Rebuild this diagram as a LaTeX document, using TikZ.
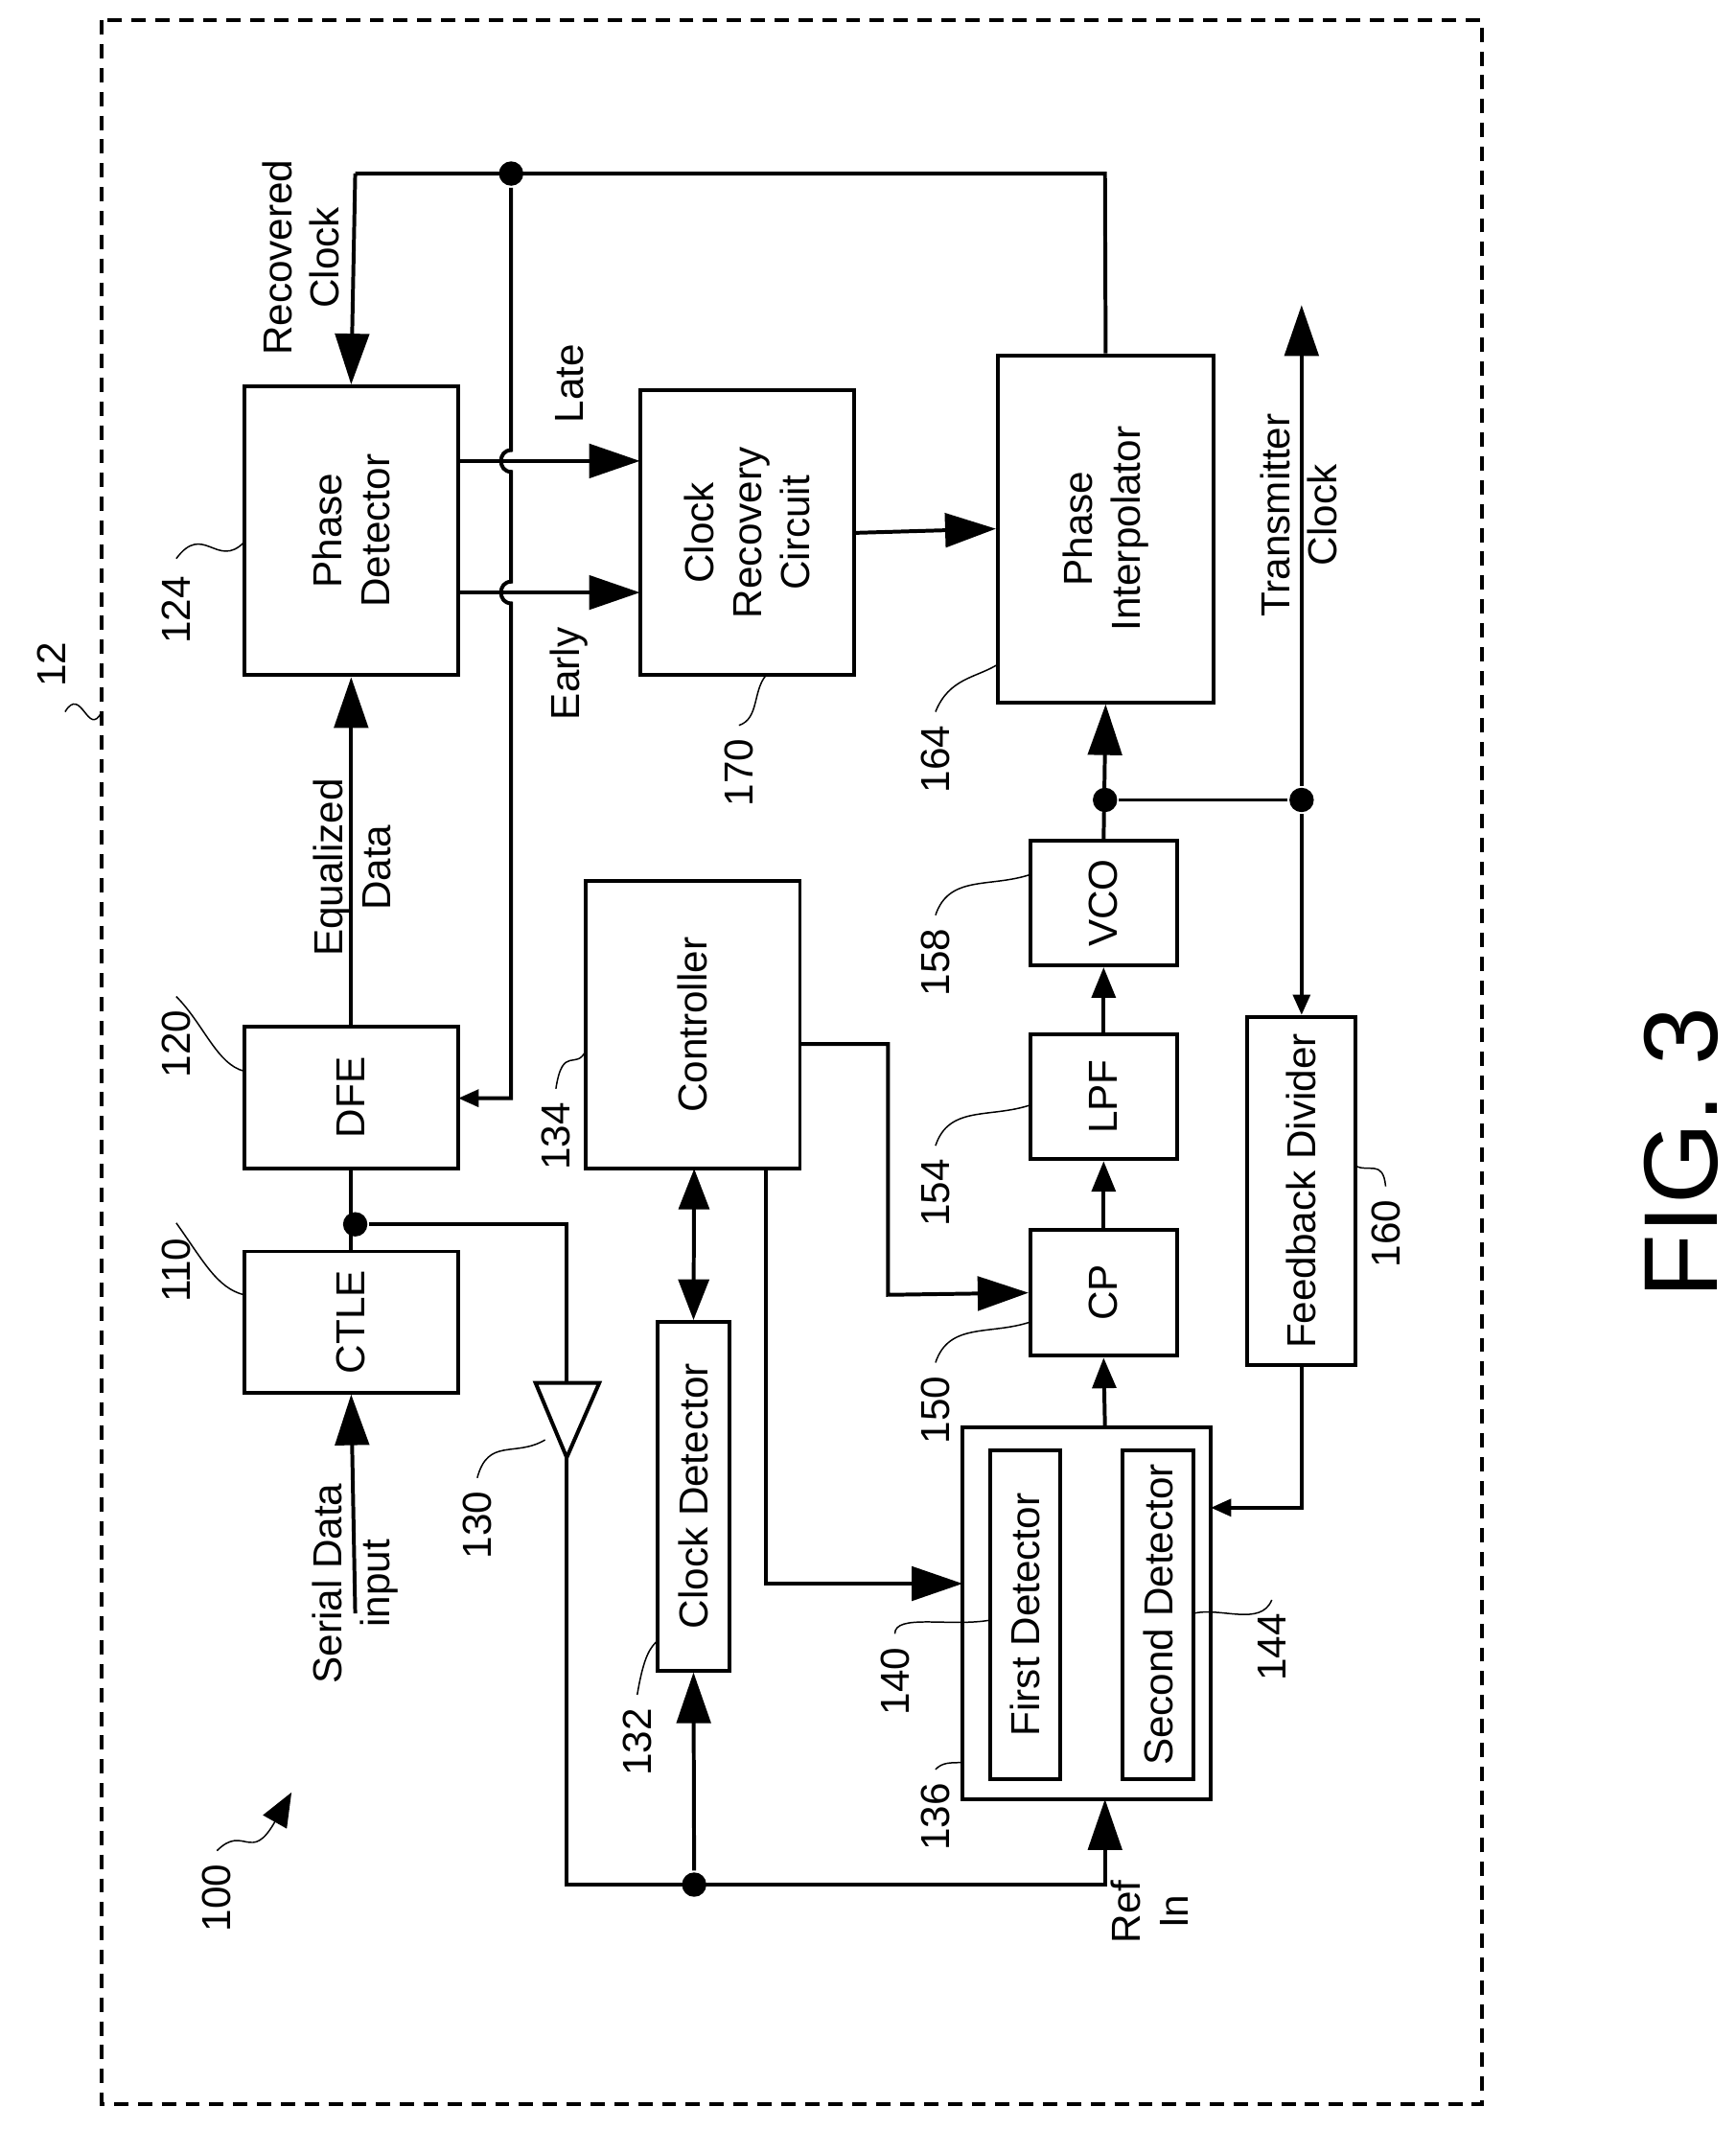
\documentclass[tikz,border=0pt]{standalone}
\usepackage{fontspec}
\setmainfont{Liberation Sans}
\usetikzlibrary{arrows.meta,fit}
\tikzset{
  box/.style={draw, line width=1.6pt, inner sep=0pt},
  txt/.style={rotate=90, align=center, font=\fontsize{17}{20}\selectfont},
  num/.style={rotate=90, font=\fontsize{17}{20}\selectfont},
  arr/.style={-{Triangle[length=0.75cm,width=0.5cm]}},
  marr/.style={-{Triangle[length=0.45cm,width=0.35cm]}},
  sarr/.style={-{Triangle[length=0.3cm,width=0.25cm]}},
  dot/.style={circle, fill, inner sep=0pt, minimum size=0.36cm},
  lead/.style={line width=0.6pt},
}
\begin{document}
\begin{tikzpicture}[x=0.02cm, y=-0.02cm, line width=1.6pt]
\useasboundingbox (0,0) rectangle (1280,1571);
\draw[line width=1.4pt, dash pattern=on 6pt off 4pt] (75,15) rectangle (1093,1552);

% blocks
\node[box, fit={(180,285) (338,498)}] (pd) {};
\node[box, fit={(472,288) (630,498)}] (crc) {};
\node[box, fit={(736,262) (895,518)}] (pi) {};
\node[box, fit={(180,757) (338,862)}] (dfe) {};
\node[box, fit={(180,923) (338,1027)}] (ctle) {};
\node[box, fit={(432,650) (590,862)}] (ctrl) {};
\node[box, fit={(485,975) (538,1232)}] (cd) {};
\node[box, fit={(760,907) (868,1000)}] (cp) {};
\node[box, fit={(760,763) (868,855)}] (lpf) {};
\node[box, fit={(760,620) (868,712)}] (vco) {};
\node[box, fit={(920,750) (1000,1007)}] (fd) {};
\node[box, fit={(710,1053) (893,1327)}] (det) {};
\node[box, fit={(730,1070) (782,1312)}] (fdet) {};
\node[box, fit={(828,1070) (880,1312)}] (sdet) {};
\draw (395,1020) -- (442,1020) -- (418,1075) -- cycle;
\coordinate (buftop) at (418,1020);
\coordinate (bufbot) at (418,1075);

\node[txt] at (pd) {Phase\\Detector};
\node[txt] at (crc) {Clock\\Recovery\\Circuit};
\node[txt] at (pi) {Phase\\Interpolator};
\node[txt] at (dfe) {DFE};
\node[txt] at (ctle) {CTLE};
\node[txt] at (ctrl) {Controller};
\node[txt] at (cd) {Clock Detector};
\node[txt] at (cp) {CP};
\node[txt] at (lpf) {LPF};
\node[txt] at (vco) {VCO};
\node[txt] at (fd) {Feedback Divider};
\node[txt] at (fdet) {First Detector};
\node[txt] at (sdet) {Second Detector};

% data path
\coordinate (sin) at (262,1190);
\draw[arr] (sin) -- (ctle.south);
\node[txt] (sdl) at (262,1168) {Serial Data\\input};
\node[dot] (d1) at (262,903) {};
\draw (ctle.north) -- (dfe.south);
\draw (d1) -- (418,903) -- (buftop);
\coordinate (ref) at (815,1390);
\coordinate (detin) at (815,1327);
\coordinate (detout) at (815,1053);
\node[dot] (d2) at (512,1390) {};
\draw[arr] (bufbot) -- (418,1390) -- (ref) -- (detin);
\draw[arr] (d2) -- (cd.south);
\node[txt] at (848,1410) {Ref\\In};
\draw[arr] (dfe.north) -- (pd.south);
\node[txt] at (260,640) {Equalized\\Data};

% recovered clock
\node[dot] (d3) at (377,128) {};
\draw[arr] (262,128) -- (pd.north);
\draw (262,128) -- (815,128) -- (pi.north);
\draw[sarr] (d3) -- (377,332) .. controls (367,332) and (367,348) .. (377,348)
  -- (377,429) .. controls (367,429) and (367,445) .. (377,445) -- (377,810) -- (338,810);
\node[txt] at (222,190) {Recovered\\Clock};
\draw[arr] (338,340) -- (472,340);
\draw[arr] (338,437) -- (472,437);
\node[txt] at (420,283) {Late};
\node[txt] at (420,497) {Early};
\draw[arr] (crc.east) -- (pi.west);

% pll
\draw[marr] (detout) -- (cp.south);
\draw[marr] (cp.north) -- (lpf.south);
\draw[marr] (lpf.north) -- (vco.south);
\node[dot] (d4) at (815,590) {};
\node[dot] (d5) at (960,590) {};
\draw[arr] (vco.north) -- (pi.south);
\draw (d4) -- (d5);
\draw[arr] (d5) -- (960,225);
\draw[sarr] (d5) -- (fd.north);
\node[txt] at (958,380) {Transmitter\\Clock};
\draw[sarr] (fd.south) -- (960,1112) -- (893,1112);

% controller
\draw[arr] (590,770) -- (655,770) -- (655,955) -- (cp.west);
\draw[arr] (565,862) -- (565,1168) -- (710,1168);
\draw[{Triangle[length=0.6cm,width=0.45cm]}-{Triangle[length=0.6cm,width=0.45cm]}] (512,862) -- (cd.north);

% reference numerals
\node[num] (n12) at (38,490) {12};
\draw[lead] (48,525) .. controls (60,505) and (65,545) .. (75,525);
\node[num] (n100) at (160,1400) {100};
\draw[lead, -{Triangle[length=0.5cm,width=0.4cm]}] (160,1365) .. controls (180,1345) and (185,1375) .. (215,1322);
\node[num] (n124) at (130,450) {124};
\draw[lead] (130,412) .. controls (150,385) and (160,420) .. (180,400);
\node[num] (n120) at (130,770) {120};
\draw[lead] (130,735) .. controls (150,755) and (160,785) .. (180,790);
\node[num] (n110) at (130,937) {110};
\draw[lead] (130,902) .. controls (150,930) and (160,950) .. (180,955);
\node[num] (n170) at (545,570) {170};
\draw[lead] (545,535) .. controls (560,530) and (555,510) .. (565,498);
\node[num] (n164) at (690,560) {164};
\draw[lead] (690,525) .. controls (700,500) and (720,500) .. (736,490);
\node[num] (n134) at (410,838) {134};
\draw[lead] (410,803) .. controls (415,770) and (425,790) .. (432,775);
\node[num] (n158) at (690,710) {158};
\draw[lead] (690,675) .. controls (700,645) and (730,655) .. (760,645);
\node[num] (n154) at (690,880) {154};
\draw[lead] (690,845) .. controls (700,815) and (730,825) .. (760,815);
\node[num] (n150) at (690,1040) {150};
\draw[lead] (690,1005) .. controls (700,975) and (730,985) .. (760,975);
\node[num] (n160) at (1022,910) {160};
\draw[lead] (1022,875) .. controls (1020,855) and (1010,865) .. (1000,860);
\node[num] (n130) at (352,1125) {130};
\draw[lead] (352,1090) .. controls (360,1060) and (380,1075) .. (402,1062);
\node[num] (n132) at (470,1285) {132};
\draw[lead] (470,1250) .. controls (475,1220) and (480,1215) .. (485,1210);
\node[num] (n140) at (660,1240) {140};
\draw[lead] (660,1205) .. controls (660,1190) and (700,1200) .. (730,1195);
\node[num] (n144) at (938,1215) {144};
\draw[lead] (938,1180) .. controls (930,1200) and (900,1185) .. (880,1190);
\node[num] (n136) at (690,1340) {136};
\draw[lead] (690,1305) .. controls (695,1300) and (700,1300) .. (710,1300);

\node[rotate=90, font=\fontsize{44}{50}\selectfont] (fig) at (1240,850) {FIG. 3};
\end{tikzpicture}
\end{document}
